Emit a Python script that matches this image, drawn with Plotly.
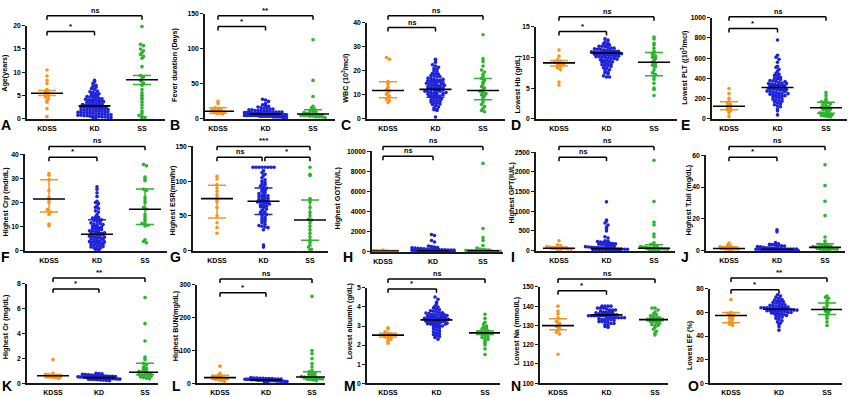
import plotly.graph_objects as go

GROUPS = ["KDSS", "KD", "SS"]
COLORS = ["#F7941D", "#1E22D8", "#2DB32D"]

# ---------------- data ----------------
A_KDSS = [10.5, 9.2, 8.3, 7.6, 6.3, 5.9, 5.5, 5.2, 5.0, 4.7, 4.3, 4.0, 3.6, 2.2, 0.5]
A_KD = [8.3, 8.0, 7.6, 7.2, 7.0, 6.8, 6.5, 6.3, 6.0, 5.8, 5.7, 5.5, 5.4, 5.2, 5.0, 5.0, 4.8, 4.7, 4.6, 4.5,
        4.4, 4.3, 4.2, 4.1, 4.0, 4.0, 3.9, 3.8, 3.7, 3.6, 3.5, 3.5, 3.4, 3.3, 3.2, 3.1, 3.0, 3.0, 2.9, 2.8,
        2.8, 2.7, 2.6, 2.6, 2.5, 2.5, 2.4, 2.3, 2.3, 2.2, 2.2, 2.1, 2.0, 2.0, 1.9, 1.9, 1.8, 1.8, 1.7, 1.7,
        1.6, 1.6, 1.5, 1.5, 1.4, 1.4, 1.3, 1.3, 1.2, 1.2, 1.1, 1.1, 1.0, 1.0, 0.9, 0.9, 0.8, 0.8, 0.7, 0.7,
        0.6, 0.6, 0.5, 0.5, 0.4, 0.4, 0.3, 0.3, 0.2, 0.2]
A_SS = [19.8, 16.0, 15.7, 15.0, 14.6, 14.2, 13.8, 13.4, 13.0, 11.2, 9.3, 9.0, 8.6, 8.2, 7.7, 7.2, 6.3, 5.6,
        5.1, 4.6, 4.2, 3.6, 3.0, 2.4, 1.7, 1.2, 0.8, 0.5, 0.3, 0.2]
A_MID = [5.5, 2.8, 8.4]
A_LO = [5.0, 2.55, 7.4]
A_HI = [6.1, 3.05, 9.3]

B_KDSS = [25, 22, 16, 15, 14, 13, 12, 11, 10, 10, 9, 8, 8, 7]
B_KD = [28, 27, 25, 22, 20, 19, 18, 17, 16, 15, 15, 14, 14, 13, 13, 12, 12, 12, 11, 11, 11, 10, 10, 10, 10,
        9, 9, 9, 9, 9, 8, 8, 8, 8, 8, 8, 7, 7, 7, 7, 7, 7, 7, 6, 6, 6, 6, 6, 6, 6, 6, 5, 5, 5, 5, 5, 5, 5,
        5, 5, 4, 4, 4, 4, 4, 4, 4, 4, 3, 3, 3, 3, 3, 3, 2, 2, 2]
B_SS = [113, 55, 32, 18, 16, 14, 12, 11, 10, 9, 8, 8, 7, 7, 6, 6, 5, 5, 5, 4, 4, 3, 3, 3, 2]
B_MID = [11, 7, 7]
B_LO = [8, 6.3, 5]
B_HI = [16, 7.8, 13]

C_KDSS = [25.5, 24.8, 15.5, 14.5, 13.2, 12.2, 11.8, 11.0, 10.3, 9.5, 8.8, 8.2, 7.5, 6.8]
C_KD = [24.8, 24.5, 23.5, 22.5, 22.0, 21.5, 21.0, 20.5, 20.0, 19.5, 19.0, 18.8, 18.5, 18.0, 17.8, 17.5,
        17.0, 16.8, 16.5, 16.2, 16.0, 15.8, 15.5, 15.2, 15.0, 14.8, 14.5, 14.2, 14.0, 13.8, 13.5, 13.2,
        13.0, 12.8, 12.5, 12.3, 12.0, 11.8, 11.5, 11.3, 11.0, 10.8, 10.5, 10.3, 10.0, 9.8, 9.5, 9.3, 9.0,
        8.8, 8.5, 8.3, 8.0, 7.8, 7.5, 7.2, 7.0, 6.8, 6.5, 6.2, 6.0, 5.5, 5.0, 4.5, 4.0, 3.8, 3.5, 0.8,
        12.5, 13.5, 14.5, 15.5, 11.5, 10.5, 9.5, 16.5, 17.5, 12.0, 13.0, 14.0, 15.0, 11.0, 10.0]
C_SS = [35.0, 25.0, 23.8, 22.0, 20.3, 19.5, 18.5, 17.5, 16.8, 16.0, 15.2, 14.5, 13.5, 12.8, 12.0, 11.5,
        11.0, 10.5, 10.0, 9.5, 8.8, 8.0, 7.0, 6.0, 5.2, 4.3, 3.5, 3.0]
C_MID = [11.8, 12.3, 11.8]
C_LO = [8.8, 9.0, 8.0]
C_HI = [15.5, 16.0, 16.8]

D_KDSS = [11.2, 10.2, 9.6, 9.4, 9.2, 9.1, 9.0, 8.9, 8.7, 8.5, 8.3, 8.0, 6.0, 5.5]
D_KD = [13.0, 12.8, 12.5, 12.3, 12.2, 12.0, 12.0, 11.8, 11.8, 11.7, 11.6, 11.5, 11.5, 11.4, 11.3, 11.3,
        11.2, 11.1, 11.1, 11.0, 11.0, 11.0, 10.9, 10.9, 10.8, 10.8, 10.8, 10.7, 10.7, 10.7, 10.6, 10.6,
        10.6, 10.5, 10.5, 10.5, 10.4, 10.4, 10.3, 10.3, 10.2, 10.2, 10.1, 10.1, 10.0, 10.0, 9.9, 9.8, 9.8,
        9.7, 9.6, 9.5, 9.5, 9.4, 9.3, 9.2, 9.1, 9.0, 8.9, 8.8, 8.7, 8.6, 8.5, 8.3, 8.2, 8.0, 7.8, 7.6,
        7.5, 7.3, 7.0, 6.8, 6.8]
D_SS = [13.3, 13.0, 12.3, 12.0, 11.5, 11.0, 10.8, 10.5, 10.2, 10.0, 9.8, 9.5, 9.2, 9.0, 8.7, 8.5, 8.0,
        7.5, 7.2, 6.8, 6.4, 5.8, 5.0, 4.8, 3.8]
D_MID = [9.1, 10.7, 9.2]
D_LO = [8.6, 10.5, 7.0]
D_HI = [9.5, 10.9, 10.8]

E_KDSS = [300, 250, 205, 175, 160, 145, 130, 120, 110, 100, 90, 80, 60, 25]
E_KD = [780, 630, 610, 590, 560, 520, 510, 490, 470, 450, 440, 430, 420, 410, 400, 395, 390, 380, 375,
        370, 360, 355, 350, 345, 340, 335, 330, 325, 320, 315, 310, 305, 300, 300, 295, 290, 285, 280,
        275, 270, 265, 260, 255, 250, 245, 240, 235, 230, 225, 220, 215, 210, 200, 195, 190, 180, 175,
        170, 160, 150, 140, 130, 120, 100, 80, 40, 330, 310, 290, 270, 350, 370, 250, 230]
E_SS = [260, 230, 200, 185, 170, 165, 160, 150, 140, 130, 120, 115, 110, 100, 95, 90, 80, 70, 60, 55, 50,
        45, 40, 35, 30, 25, 20]
E_MID = [125, 310, 110]
E_LO = [90, 292, 55]
E_HI = [170, 330, 165]

F_KDSS = [32.0, 31.3, 29.5, 25.0, 22.0, 21.0, 20.0, 17.0, 16.0, 15.0, 11.0, 10.2]
F_KD = [26.5, 25.5, 24.0, 22.5, 20.5, 20.0, 19.5, 18.5, 18.0, 17.5, 16.5, 16.0, 15.0, 14.0, 13.8, 13.5,
        13.2, 13.0, 12.8, 12.5, 12.0, 11.5, 11.0, 10.5, 10.2, 10.0, 9.5, 9.2, 9.0, 8.5, 8.2, 8.0, 7.8, 7.5,
        7.2, 7.0, 6.8, 6.5, 6.2, 6.0, 5.8, 5.5, 5.2, 5.0, 4.8, 4.5, 4.2, 4.0, 3.8, 3.5, 3.2, 3.0, 2.8, 2.5,
        2.2, 2.0, 1.8, 1.5, 1.2, 1.0, 0.8, 0.5, 0.3, 12.2, 11.2, 10.8, 9.8, 8.8, 7.4, 6.6, 5.6, 4.6, 3.6,
        2.6, 1.6]
F_SS = [35.8, 35.2, 30.5, 29.5, 29.0, 25.5, 25.0, 22.0, 21.0, 20.0, 18.0, 17.3, 15.0, 14.0, 13.0, 12.0,
        11.2, 10.8, 10.5, 10.2, 4.5, 3.8, 3.2]
F_MID = [21.4, 6.8, 17.2]
F_LO = [16.0, 3.5, 10.8]
F_HI = [29.4, 12.8, 25.6]

G_KDSS = [107, 103, 95, 90, 85, 80, 76, 73, 70, 62, 50, 40, 33, 25]
G_KD = [120, 120, 120, 120, 120, 120, 120, 120, 115, 112, 110, 108, 105, 102, 100, 98, 96, 95, 93, 92, 90,
        88, 87, 85, 84, 82, 80, 80, 79, 78, 77, 76, 75, 74, 73, 72, 71, 70, 70, 69, 68, 67, 66, 65, 64, 63,
        62, 60, 58, 56, 55, 53, 52, 50, 48, 46, 45, 43, 42, 40, 38, 36, 35, 34, 33, 30, 8, 5]
G_SS = [120, 110, 108, 75, 73, 70, 62, 55, 50, 45, 44, 40, 35, 30, 25, 20, 15, 12, 8, 5, 2, 1]
G_MID = [74.8, 71, 44]
G_LO = [47, 52, 15]
G_HI = [94, 90, 73]

H_KDSS = [150, 120, 100, 90, 80, 70, 60, 50, 45, 40, 35, 30, 25, 20]
H_KD = [1700, 1600, 1100, 950, 550, 500, 450, 400, 380, 350, 320, 300, 280, 260, 240, 220, 200, 190, 180,
        170, 160, 150, 140, 130, 120, 110, 100, 95, 90, 85, 80, 75, 70, 65, 60, 55, 50, 50, 45, 45, 40,
        40, 35, 35, 30, 30, 25, 25, 20, 20]
H_SS = [8800, 2300, 1400, 1100, 600, 350, 250, 200, 180, 150, 120, 100, 90, 80, 70, 60, 50, 45, 40, 35,
        30, 25, 20]
H_MID = [50, 60, 70]
H_LO = [30, 30, 30]
H_HI = [80, 150, 180]

I_KDSS = [250, 150, 120, 100, 90, 80, 70, 60, 55, 50, 40, 35, 30, 25]
I_KD = [1240, 780, 750, 700, 650, 600, 550, 500, 350, 320, 250, 240, 230, 220, 210, 200, 190, 180, 170,
        160, 150, 140, 130, 120, 110, 100, 90, 85, 80, 75, 70, 65, 60, 55, 50, 45, 40, 40, 35, 35, 30, 30,
        25, 25, 20, 20, 18, 15, 12, 10]
I_SS = [2300, 1250, 720, 650, 420, 350, 200, 160, 140, 120, 100, 90, 80, 70, 60, 55, 50, 45, 40, 35, 30,
        25, 20, 15]
I_MID = [60, 50, 60]
I_LO = [35, 25, 30]
I_HI = [90, 160, 150]

J_KDSS = [4.8, 3.5, 3.0, 2.5, 2.0, 1.8, 1.5, 1.3, 1.1, 1.0, 0.8, 0.6, 0.5]
J_KD = [13.0, 11.8, 5.0, 4.2, 4.0, 3.8, 3.5, 3.3, 3.0, 2.8, 2.5, 2.3, 2.0, 1.8, 1.6, 1.5, 1.4, 1.3, 1.2,
        1.1, 1.0, 1.0, 0.9, 0.9, 0.8, 0.8, 0.7, 0.7, 0.6, 0.6, 0.5, 0.5, 0.5, 0.4, 0.4, 0.4, 0.3, 0.3,
        0.3, 0.2, 0.2]
J_SS = [54, 41, 31, 22, 8.5, 6.0, 4.5, 4.0, 3.5, 3.2, 3.0, 2.7, 2.5, 2.2, 2.0, 1.8, 1.6, 1.4, 1.2, 1.0,
        0.9, 0.8, 0.7, 0.6, 0.5]
J_MID = [1.3, 0.8, 2.0]
J_LO = [0.7, 0.4, 0.9]
J_HI = [2.4, 3.0, 4.3]

K_KDSS = [1.9, 0.8, 0.72, 0.68, 0.64, 0.6, 0.58, 0.55, 0.52, 0.5, 0.46, 0.42, 0.38]
K_KD = [0.8, 0.78, 0.75, 0.72, 0.7, 0.68, 0.66, 0.64, 0.62, 0.6, 0.6, 0.58, 0.56, 0.55, 0.54, 0.52, 0.5,
        0.5, 0.5, 0.48, 0.48, 0.46, 0.46, 0.45, 0.44, 0.44, 0.42, 0.42, 0.4, 0.4, 0.4, 0.38, 0.38, 0.36,
        0.36, 0.35, 0.34, 0.33, 0.32, 0.3, 0.3, 0.28, 0.26, 0.25, 0.22, 0.2]
K_SS = [6.9, 4.8, 3.4, 2.1, 1.9, 1.6, 1.5, 1.3, 1.2, 1.1, 1.0, 0.95, 0.9, 0.85, 0.8, 0.75, 0.7, 0.68,
        0.65, 0.6, 0.55, 0.5, 0.45, 0.4, 0.35]
K_MID = [0.6, 0.45, 0.88]
K_LO = [0.45, 0.38, 0.68]
K_HI = [0.7, 0.52, 1.6]

L_KDSS = [52, 30, 25, 22, 20, 18, 17, 16, 15, 14, 12, 10, 8, 5]
L_KD = [17, 16, 16, 15, 15, 14, 14, 14, 13, 13, 13, 12, 12, 12, 12, 11, 11, 11, 11, 10, 10, 10, 10, 10, 9,
        9, 9, 9, 8, 8, 8, 8, 7, 7, 7, 6, 6, 6, 5, 5, 4, 3]
L_SS = [265, 100, 90, 75, 60, 50, 40, 35, 32, 30, 27, 25, 22, 20, 19, 18, 17, 16, 15, 14, 13, 12, 11, 10,
        8]
L_MID = [17, 10, 19]
L_LO = [11, 8, 13]
L_HI = [24, 12, 35]

M_KDSS = [2.9, 2.85, 2.7, 2.62, 2.58, 2.52, 2.5, 2.47, 2.42, 2.36, 2.3, 2.2, 2.1]
M_KD = [4.52, 4.4, 4.25, 4.15, 4.05, 4.0, 3.95, 3.9, 3.85, 3.8, 3.78, 3.75, 3.7, 3.68, 3.65, 3.62, 3.6,
        3.58, 3.55, 3.52, 3.5, 3.48, 3.45, 3.42, 3.4, 3.38, 3.35, 3.32, 3.3, 3.28, 3.25, 3.22, 3.2, 3.18,
        3.15, 3.12, 3.1, 3.08, 3.05, 3.02, 3.0, 2.98, 2.95, 2.9, 2.85, 2.8, 2.75, 2.7, 2.65, 2.6, 2.55,
        2.5, 2.45, 2.4, 2.31, 3.6, 3.5, 3.4, 3.3, 3.2, 3.7, 3.1, 3.45, 3.35, 3.25, 3.55, 3.15]
M_SS = [3.62, 3.4, 3.2, 3.1, 3.0, 2.95, 2.9, 2.85, 2.8, 2.75, 2.7, 2.68, 2.65, 2.62, 2.6, 2.55, 2.5, 2.45,
        2.4, 2.35, 2.3, 2.2, 2.1, 2.0, 1.8, 1.5]
M_MID = [2.52, 3.32, 2.64]
M_LO = [2.42, 3.24, 2.55]
M_HI = [2.62, 3.42, 2.74]

N_KDSS = [140, 137.5, 136, 134, 132, 131, 130, 129.5, 128.5, 127.5, 126.5, 125.5, 115]
N_KD = [140, 140, 140, 140, 139, 139, 139, 138.5, 138, 138, 138, 137.5, 137, 137, 137, 137, 136.5, 136,
        136, 136, 136, 136, 135.5, 135.5, 135, 135, 135, 135, 135, 135, 134.5, 134.5, 134, 134, 134, 134,
        134, 133.5, 133, 133, 133, 133, 132.5, 132, 132, 132, 131.5, 131, 131, 130.5, 130, 129.5, 129]
N_SS = [139, 139, 138, 137, 136, 135.5, 135, 134.5, 134, 134, 133.5, 133, 133, 132.5, 132, 132, 131.5,
        131, 130.5, 130, 130, 129, 128, 127, 126, 125]
N_MID = [129.9, 135.5, 133.0]
N_LO = [127.8, 135.2, 132.4]
N_HI = [133.5, 135.9, 133.6]

O_KDSS = [71, 60, 59, 58, 57.5, 57, 56, 55, 54, 52, 51, 50, 49]
O_KD = [75, 74, 73, 72, 71, 70.5, 70, 69.5, 69, 68.5, 68, 67.5, 67, 66.5, 66, 66, 65.5, 65, 65, 64.5, 64.5,
        64, 64, 64, 63.5, 63.5, 63, 63, 63, 62.5, 62.5, 62, 62, 62, 61.5, 61.5, 61, 61, 61, 60.5, 60.5, 60,
        60, 59.5, 59, 59, 58.5, 58, 57.5, 57, 56.5, 56, 55, 54, 53, 52, 51, 50, 48, 45]
O_SS = [74, 73, 72, 70, 68, 66, 64, 63, 62, 61, 60, 58, 57, 55, 52, 49]
O_MID = [57.4, 62.7, 62.5]
O_LO = [51.3, 61.8, 58.2]
O_HI = [59.9, 63.6, 68.0]

PANELS = [
    ("A", "Age(years)", (A_KDSS, A_KD, A_SS), (A_MID, A_LO, A_HI), (0, 20, 5), [(0, 2, "ns"), (0, 1, "*")]),
    ("B", "Fever duration (Days)", (B_KDSS, B_KD, B_SS), (B_MID, B_LO, B_HI), (0, 150, 50), [(0, 2, "**"), (0, 1, "*")]),
    ("C", "WBC (10<sup>3</sup>/mcl)", (C_KDSS, C_KD, C_SS), (C_MID, C_LO, C_HI), (0, 40, 10), [(0, 2, "ns"), (0, 1, "ns")]),
    ("D", "Lowest Hb (g/dL)", (D_KDSS, D_KD, D_SS), (D_MID, D_LO, D_HI), (0, 15, 5), [(0, 2, "ns"), (0, 1, "*")]),
    ("E", "Lowest PLT ((10<sup>3</sup>/mcl)", (E_KDSS, E_KD, E_SS), (E_MID, E_LO, E_HI), (0, 1000, 200), [(0, 2, "ns"), (0, 1, "*")]),
    ("F", "Highest Crp (md/dL)", (F_KDSS, F_KD, F_SS), (F_MID, F_LO, F_HI), (0, 40, 10), [(0, 2, "ns"), (0, 1, "*")]),
    ("G", "Highest ESR(mm/hr)", (G_KDSS, G_KD, G_SS), (G_MID, G_LO, G_HI), (0, 150, 50), [(0, 2, "***"), (0, 1, "ns"), (1, 2, "*")]),
    ("H", "Highest GOT(IU/L)", (H_KDSS, H_KD, H_SS), (H_MID, H_LO, H_HI), (0, 10000, 2000), [(0, 2, "ns"), (0, 1, "ns")]),
    ("I", "Highest GPT(IU/L)", (I_KDSS, I_KD, I_SS), (I_MID, I_LO, I_HI), (0, 2500, 500), [(0, 2, "ns"), (0, 1, "ns")]),
    ("J", "Highest T.bil (mg/dL)", (J_KDSS, J_KD, J_SS), (J_MID, J_LO, J_HI), (0, 60, 20), [(0, 2, "ns"), (0, 1, "*")]),
    ("K", "Highest Cr (mg/dL)", (K_KDSS, K_KD, K_SS), (K_MID, K_LO, K_HI), (0, 8, 2), [(0, 2, "**"), (0, 1, "*")]),
    ("L", "Highest BUN(mg/dL)", (L_KDSS, L_KD, L_SS), (L_MID, L_LO, L_HI), (0, 300, 100), [(0, 2, "ns"), (0, 1, "*")]),
    ("M", "Lowest albumin (g/dL)", (M_KDSS, M_KD, M_SS), (M_MID, M_LO, M_HI), (0, 5, 1), [(0, 2, "ns"), (0, 1, "*")]),
    ("N", "Lowest Na (mmol/L)", (N_KDSS, N_KD, N_SS), (N_MID, N_LO, N_HI), (100, 150, 10), [(0, 2, "ns"), (0, 1, "*")]),
    ("O", "Lowest EF (%)", (O_KDSS, O_KD, O_SS), (O_MID, O_LO, O_HI), (0, 80, 20), [(0, 2, "**"), (0, 1, "*")]),
]

# ---------------- geometry (pixels) ----------------
GEOM = {
    "A": dict(ax=27, c0=47, c2=142, xend=165, ytop=22, ybot=117, br=[12, 28], tx=5, ty=70, lx=6, ly=123),
    "B": dict(ax=205, c0=218, c2=313, xend=335, ytop=10, ybot=117, br=[12, 23], tx=175, ty=62, lx=175, ly=123),
    "C": dict(ax=367, c0=388, c2=483, xend=505, ytop=19, ybot=117, br=[12, 24], tx=345, ty=75, lx=346, ly=123),
    "D": dict(ax=536, c0=559, c2=654, xend=677, ytop=23, ybot=117, br=[13, 28], tx=518, ty=82, lx=516, ly=123),
    "E": dict(ax=712, c0=729, c2=826, xend=847, ytop=14, ybot=117, br=[13, 25], tx=684, ty=65, lx=685, ly=123),
    "F": dict(ax=25, c0=49, c2=145, xend=167, ytop=153, ybot=251, br=[145, 156], tx=5, ty=201, lx=5, ly=258),
    "G": dict(ax=193, c0=217, c2=310, xend=328, ytop=145, ybot=251, br=[145, 156, 156], tx=172, ty=200, lx=175, ly=258),
    "H": dict(ax=372, c0=383, c2=483, xend=503, ytop=150, ybot=252, br=[145, 155], tx=338, ty=198, lx=348, ly=258),
    "I": dict(ax=536, c0=559, c2=654, xend=675, ytop=151, ybot=251, br=[145, 156], tx=512, ty=192, lx=513, ly=258),
    "J": dict(ax=706, c0=729, c2=825, xend=845, ytop=154, ybot=251, br=[145, 156], tx=688, ty=200, lx=685, ly=258),
    "K": dict(ax=27, c0=53, c2=145, xend=158, ytop=285, ybot=386, br=[279, 290], tx=5, ty=329, lx=7, ly=389),
    "L": dict(ax=197, c0=220, c2=312, xend=325, ytop=286, ybot=386, br=[280, 294], tx=175, ty=328, lx=176, ly=389),
    "M": dict(ax=367, c0=388, c2=485, xend=500, ytop=289, ybot=386, br=[280, 290], tx=349, ty=323, lx=350, ly=389),
    "N": dict(ax=540, c0=558, c2=655, xend=668, ytop=288, ybot=386, br=[280, 292], tx=516, ty=333, lx=516, ly=389),
    "O": dict(ax=710, c0=731, c2=827, xend=842, ytop=290, ybot=386, br=[279, 291], tx=690, ty=347, lx=693, ly=389),
}

W, H = 850, 397
FONT = "Liberation Sans, Arial, sans-serif"
AXC = "#1a1a1a"


def swarm(vals, center, ppx, ppy, ymin, dot=3.0, maxhalf=18.0):
    """Column-scatter layout: points in the same vertical pixel row are spread sideways."""
    rows = {}
    for v in vals:
        key = int(round((v - ymin) * ppy / (dot * 0.9)))
        rows.setdefault(key, []).append(v)
    xs, ys = [], []
    for key in sorted(rows):
        pts = rows[key]
        k = len(pts)
        step = dot
        if k > 1 and (k - 1) * dot / 2 > maxhalf:
            step = 2 * maxhalf / (k - 1)
        for j, v in enumerate(pts):
            off = (j - (k - 1) / 2) * step
            xs.append(center + off / ppx)
            ys.append(v)
    return xs, ys


fig = go.Figure()
layout = dict(width=W, height=H, margin=dict(l=0, r=0, t=0, b=0, pad=0), paper_bgcolor="white",
              plot_bgcolor="white", showlegend=False, font=dict(family=FONT, color="black"))
shapes, annos = [], []

for idx, (letter, title, data, stats, (ymin, ymax, dt), brackets) in enumerate(PANELS):
    n = idx + 1
    g = GEOM[letter]
    sfx = "" if n == 1 else str(n)
    xa, ya = "x" + sfx, "y" + sfx
    ppx = (g["c2"] - g["c0"]) / 2.0
    ppy = (g["ybot"] - g["ytop"]) / float(ymax - ymin)
    xr = [-(g["c0"] - g["ax"]) / ppx, 2 + (g["xend"] - g["c2"]) / ppx]
    xdom = [g["ax"] / W, g["xend"] / W]
    ydom = [1 - g["ybot"] / H, 1 - g["ytop"] / H]
    mids, los, his = stats

    for gi in range(3):
        maxhalf = [14, 21, 17][gi]
        xs, ys = swarm(data[gi], gi, ppx, ppy, ymin, maxhalf=maxhalf)
        fig.add_trace(go.Scatter(x=xs, y=ys, mode="markers", xaxis=xa, yaxis=ya, cliponaxis=False,
                                 marker=dict(size=3.6, color=COLORS[gi], line=dict(width=0)),
                                 hoverinfo="skip"))
    for gi in range(3):
        fig.add_trace(go.Scatter(x=[gi], y=[mids[gi]], mode="markers", xaxis=xa, yaxis=ya,
                                 marker=dict(size=1, opacity=0),
                                 error_y=dict(type="data", symmetric=False, array=[his[gi] - mids[gi]],
                                              arrayminus=[mids[gi] - los[gi]], color=COLORS[gi],
                                              thickness=1.5, width=9),
                                 hoverinfo="skip"))
    hw = 16.0 / ppx
    for gi in range(3):
        fig.add_trace(go.Scatter(x=[gi - hw, gi + hw], y=[mids[gi], mids[gi]], mode="lines",
                                 xaxis=xa, yaxis=ya, line=dict(color="black", width=1.6),
                                 hoverinfo="skip"))

    layout["xaxis" + sfx] = dict(domain=xdom, range=xr, anchor=ya, showgrid=False, zeroline=False,
                                 showline=True, linecolor=AXC, linewidth=1.6,
                                 tickvals=[0, 1, 2], ticktext=GROUPS, ticks="outside", ticklen=2,
                                 tickcolor="rgba(0,0,0,0)",
                                 tickfont=dict(size=7, family=FONT, weight="bold", color="black"))
    tv = list(range(ymin, ymax + 1, dt))
    layout["yaxis" + sfx] = dict(domain=ydom, range=[ymin, ymax], anchor=xa, showgrid=False,
                                 zeroline=False, showline=True, linecolor=AXC, linewidth=1.6,
                                 tickvals=tv, ticktext=[str(t) for t in tv], ticks="outside", ticklen=3,
                                 tickwidth=1.4, tickcolor=AXC, ticklabelstandoff=0,
                                 tickfont=dict(size=6.8, family=FONT, weight="bold", color="black"))

    span = float(g["ybot"] - g["ytop"])
    drop = 4.0 / span
    for (i0, i1, txt), bpx in zip(brackets, g["br"]):
        yb = (g["ybot"] - bpx) / span
        x0 = i0 + (0.03 if (letter == "G" and i0 == 1) else 0)
        x1 = i1 - (0.03 if (letter == "G" and i1 == 1 and i0 == 0) else 0)
        line = dict(color="black", width=1.5)
        for (sx0, sy0, sx1, sy1) in [(x0, yb - drop, x0, yb), (x0, yb, x1, yb), (x1, yb, x1, yb - drop)]:
            shapes.append(dict(type="line", xref=xa, yref=ya + " domain", x0=sx0, y0=sy0, x1=sx1, y1=sy1,
                               line=line, layer="above"))
        is_ns = txt == "ns"
        annos.append(dict(text=txt, xref=xa, yref=ya + " domain", x=(x0 + x1) / 2, y=yb,
                          xanchor="center", yanchor="bottom", showarrow=False, borderpad=0,
                          font=dict(size=7.2 if is_ns else 8, family=FONT,
                                    color="black", weight="bold")))

    annos.append(dict(text=title, xref="paper", yref="paper", x=g["tx"] / W,
                      y=1 - g["ty"] / H, textangle=-90, xanchor="center", yanchor="middle",
                      showarrow=False, borderpad=0,
                      font=dict(size=7.2, family=FONT, weight="bold", color="black")))
    annos.append(dict(text=letter, xref="paper", yref="paper", x=g["lx"] / W, y=1 - g["ly"] / H,
                      xanchor="center", yanchor="middle", showarrow=False,
                      font=dict(size=14, family=FONT, weight="bold", color="black")))

layout["shapes"] = shapes
layout["annotations"] = annos
fig.update_layout(**layout)
fig.write_html("out.html", config={"displayModeBar": False},
               post_script="document.body.style.margin='0';document.body.style.overflow='hidden';"
                           "document.documentElement.style.overflow='hidden';")
